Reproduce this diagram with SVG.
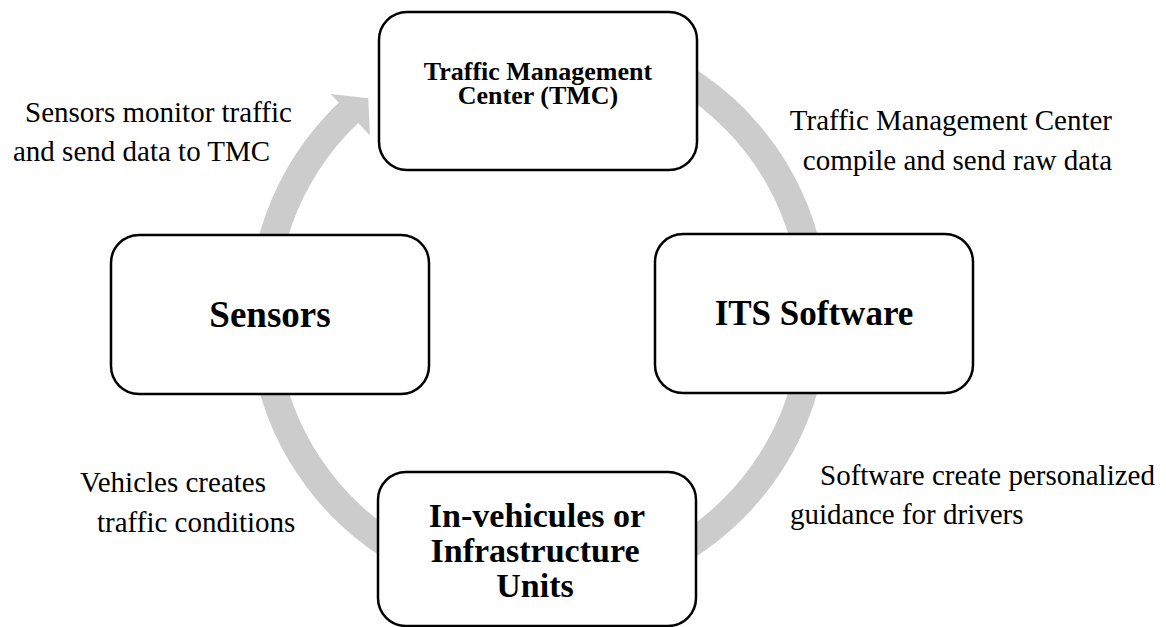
<svg xmlns="http://www.w3.org/2000/svg" width="1166" height="627" viewBox="0 0 1166 627">
<style>
.box{fill:#ffffff;stroke:#000000;stroke-width:2.5}
.bt{font-family:"Liberation Serif","Times New Roman",serif;font-weight:bold;fill:#000;text-anchor:middle}
.lbl{font-family:"Liberation Serif","Times New Roman",serif;font-size:29px;fill:#000}
.ring{fill:#cccccc;stroke:none}
</style>
<rect width="1166" height="627" fill="#ffffff"/>
<g id="connectors">
<path class="ring" d="M 513.2 24.1 A 290 290 0 1 1 338.9 102.6 L 330.6 93.9 L 368.3 98.3 L 369.9 135.3 L 358.2 123.0 A 262 262 0 1 0 515.7 52.0 Z"/>
</g>
<g id="node-tmc">
<rect class="box" x="379" y="12" width="318" height="158" rx="28" ry="28"/>
<text class="bt" font-size="26" x="538" y="80">Traffic Management</text>
<text class="bt" font-size="26" x="538" y="104">Center (TMC)</text>
</g>
<g id="node-its">
<rect class="box" x="655" y="234" width="318" height="159" rx="28" ry="28"/>
<text class="bt" font-size="35" x="814" y="325">ITS Software</text>
</g>
<g id="node-sensors">
<rect class="box" x="111" y="235" width="318" height="159" rx="28" ry="28"/>
<text class="bt" font-size="37" x="270" y="327">Sensors</text>
</g>
<g id="node-invehicle">
<rect class="box" x="378" y="472" width="318" height="154" rx="28" ry="28"/>
<text class="bt" font-size="34" x="537" y="527">In-vehicules or</text>
<text class="bt" font-size="34" x="535" y="562">Infrastructure</text>
<text class="bt" font-size="34" x="535" y="597">Units</text>
</g>
<g id="labels">
<text class="lbl" x="25" y="122">Sensors monitor traffic</text>
<text class="lbl" x="13" y="161">and send data to TMC</text>
<text class="lbl" x="1112" y="130" text-anchor="end">Traffic Management Center</text>
<text class="lbl" x="1112" y="170" text-anchor="end">compile and send raw data</text>
<text class="lbl" x="80" y="492">Vehicles creates</text>
<text class="lbl" x="97" y="532">traffic conditions</text>
<text class="lbl" x="820" y="485">Software create personalized</text>
<text class="lbl" x="790" y="524">guidance for drivers</text>
</g>
</svg>
